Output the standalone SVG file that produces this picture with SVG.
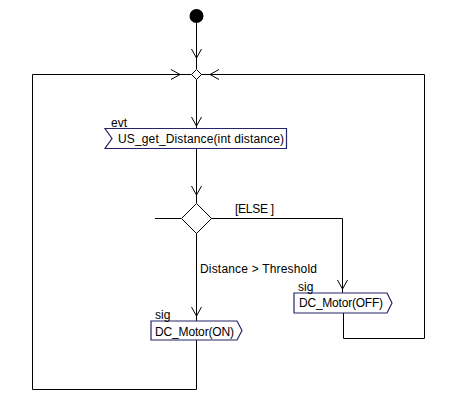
<svg xmlns="http://www.w3.org/2000/svg" width="451" height="408" viewBox="0 0 451 408">
<style>
.c{fill:none;stroke:#000;stroke-width:1}
.a{fill:none;stroke:#000;stroke-width:1}
.box{fill:#fff;stroke:#24246b;stroke-width:1.2}
.dia{fill:#fff;stroke:#000;stroke-width:1}
.t{font-family:"Liberation Sans",Arial,sans-serif;font-size:12px;fill:#000}
</style>
<rect width="451" height="408" fill="#fff"/>
<g id="connectors">
<path class="c" d="M196.5,23 V69"/>
<path class="a" d="M191.5,49 L196.5,58 L201.5,49"/>
<path class="c" d="M196.5,79 V128"/>
<path class="a" d="M191.5,117 L196.5,126 L201.5,117"/>
<path class="c" d="M196.5,148 V203"/>
<path class="a" d="M191.5,186 L196.5,195 L201.5,186"/>
<path class="c" d="M155,218.5 H181"/>
<path class="c" d="M211,218.5 H342.5 V293"/>
<path class="a" d="M337.5,280 L342.5,289 L347.5,280"/>
<path class="c" d="M196.5,233 V321"/>
<path class="a" d="M191.5,307 L196.5,316 L201.5,307"/>
<path class="c" d="M196.5,340 V389.5 H32.5 V74.5 H191"/>
<path class="a" d="M171,69.5 L180,74.5 L171,79.5"/>
<path class="c" d="M343.5,313 V338.5 H424.5 V74.5 H201"/>
<path class="a" d="M219,69.5 L210,74.5 L219,79.5"/>
</g>
<g id="initial"><circle cx="196.5" cy="16" r="7" fill="#000"/></g>
<g id="merge"><path class="dia" d="M196.5,69.5 L201.5,74.5 L196.5,79.5 L191.5,74.5 Z"/></g>
<g id="evt">
<path class="box" d="M105,128.5 H286.5 V148.5 H105 L112,138.5 Z"/>
<text class="t" x="111" y="127">evt</text>
<text class="t" x="118" y="142.5" textLength="166" lengthAdjust="spacing">US_get_Distance(int distance)</text>
</g>
<g id="decision">
<path class="dia" d="M196.5,203.5 L211.5,218.5 L196.5,233.5 L181.5,218.5 Z"/>
<text class="t" x="235" y="213" textLength="39" lengthAdjust="spacing">[ELSE ]</text>
<text class="t" x="200" y="272.5" textLength="117" lengthAdjust="spacing">Distance &gt; Threshold</text>
</g>
<g id="sigON">
<path class="box" d="M151,321 H237 L242,330.5 L237,340 H151 Z"/>
<text class="t" x="155" y="319">sig</text>
<text class="t" x="155" y="336" textLength="79" lengthAdjust="spacing">DC_Motor(ON)</text>
</g>
<g id="sigOFF">
<path class="box" d="M294,293 H387 L392,303 L387,313 H294 Z"/>
<text class="t" x="298" y="291">sig</text>
<text class="t" x="299" y="307" textLength="84" lengthAdjust="spacing">DC_Motor(OFF)</text>
</g>
</svg>
